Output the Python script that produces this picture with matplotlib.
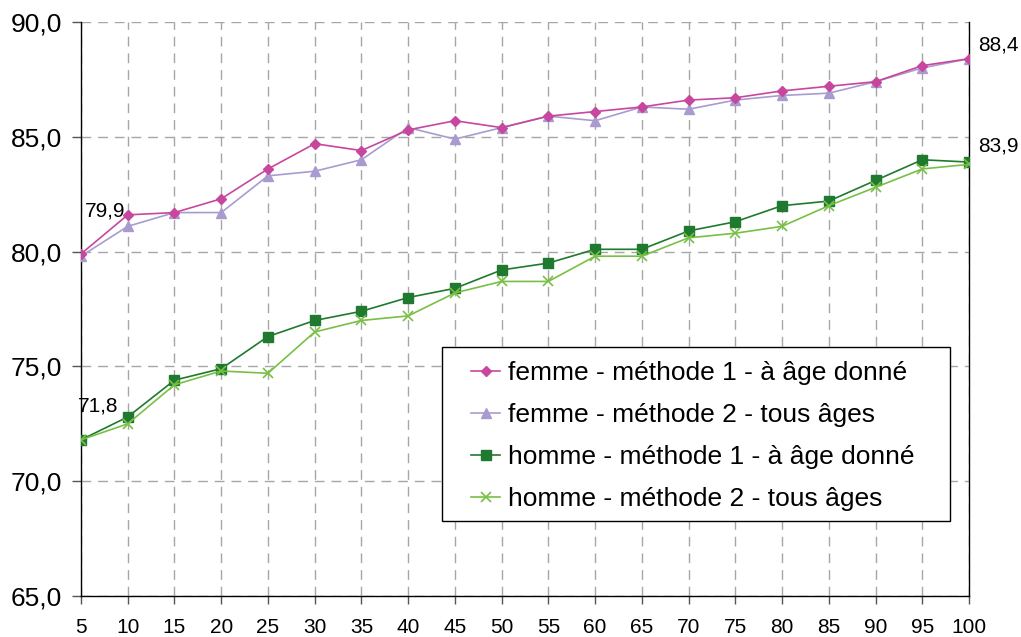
import matplotlib
matplotlib.use("Agg")
import matplotlib.pyplot as plt
from matplotlib.ticker import FuncFormatter
from matplotlib.patches import Rectangle

plt.rcParams['font.family'] = ['Liberation Sans', 'DejaVu Sans']

ages = [5, 10, 15, 20, 25, 30, 35, 40, 45, 50, 55, 60, 65, 70, 75, 80, 85, 90, 95, 100]
femme_m1 = [79.9, 81.6, 81.7, 82.3, 83.6, 84.7, 84.4, 85.3, 85.7, 85.4, 85.9, 86.1, 86.3, 86.6, 86.7, 87.0, 87.2, 87.4, 88.1, 88.4]
femme_m2 = [79.8, 81.1, 81.7, 81.7, 83.3, 83.5, 84.0, 85.4, 84.9, 85.4, 85.9, 85.7, 86.3, 86.2, 86.6, 86.8, 86.9, 87.4, 88.0, 88.4]
homme_m1 = [71.8, 72.8, 74.4, 74.9, 76.3, 77.0, 77.4, 78.0, 78.4, 79.2, 79.5, 80.1, 80.1, 80.9, 81.3, 82.0, 82.2, 83.1, 84.0, 83.9]
homme_m2 = [71.8, 72.5, 74.2, 74.8, 74.7, 76.5, 77.0, 77.2, 78.2, 78.7, 78.7, 79.8, 79.8, 80.6, 80.8, 81.1, 82.0, 82.8, 83.6, 83.8]

labels = ["femme - méthode 1 - à âge donné",
          "femme - méthode 2 - tous âges",
          "homme - méthode 1 - à âge donné",
          "homme - méthode 2 - tous âges"]
y_ticks = [65, 70, 75, 80, 85, 90]

fig = plt.figure(figsize=(10.21, 6.37), dpi=100)
ax = fig.add_axes([81/1021, 1-596/637, (969-81)/1021, (596-22)/637])

c_f1 = '#C8479E'
c_f2 = '#A99BD0'
c_h1 = '#1F7A2F'
c_h2 = '#78C044'

ax.plot(ages, femme_m1, color=c_f1, lw=1.2, marker='D', ms=5, mec=c_f1, mfc=c_f1, label=labels[0], zorder=4)
ax.plot(ages, femme_m2, color=c_f2, lw=1.2, marker='^', ms=7, mec=c_f2, mfc=c_f2, label=labels[1], zorder=3)
ax.plot(ages, homme_m1, color=c_h1, lw=1.2, marker='s', ms=6.5, mec=c_h1, mfc=c_h1, label=labels[2], zorder=3)
ax.plot(ages, homme_m2, color=c_h2, lw=1.2, marker='x', ms=7, mew=1.2, label=labels[3], zorder=4)

ax.set_xlim(ages[0], ages[-1])
ax.set_ylim(y_ticks[0], y_ticks[-1])
ax.set_xticks(ages)
ax.set_yticks(y_ticks)
ax.yaxis.set_major_formatter(FuncFormatter(lambda v, p: f"{v:.1f}".replace('.', ',')))

ax.grid(True, color='#A6A6A6', linestyle=(0, (7, 5)), linewidth=1.0, zorder=0)
ax.set_axisbelow(True)
ax.spines['top'].set_visible(False)
for s in ['left', 'bottom', 'right']:
    ax.spines[s].set_color('black')
    ax.spines[s].set_linewidth(1.0)
ax.tick_params(axis='y', direction='out', length=6.5, width=1, color='#555555', labelsize=19, pad=7)
ax.tick_params(axis='x', direction='out', length=5.5, width=1, color='#555555', labelsize=15, pad=10)

# data labels
ann_kw = dict(textcoords='offset pixels', fontsize=15, va='center', ha='left')
ax.annotate(f"{femme_m1[0]:.1f}".replace('.', ','), (ages[0], femme_m1[0]), xytext=(4, 43), **ann_kw)
ax.annotate(f"{homme_m1[0]:.1f}".replace('.', ','), (ages[0], homme_m1[0]), xytext=(-3, 34), **ann_kw)
ax.annotate(f"{femme_m1[-1]:.1f}".replace('.', ','), (ages[-1], femme_m1[-1]), xytext=(9, 14), annotation_clip=False, **ann_kw)
ax.annotate(f"{homme_m1[-1]:.1f}".replace('.', ','), (ages[-1], homme_m1[-1]), xytext=(9, 16), annotation_clip=False, **ann_kw)

# legend frame (drawn separately for exact padding)
x0, x1 = (442-81)/888, (950-81)/888
y0, y1 = (596-521)/574, (596-347)/574
ax.add_patch(Rectangle((x0, y0), x1-x0, y1-y0, transform=ax.transAxes, facecolor='white',
                       edgecolor='black', linewidth=1.0, zorder=8, clip_on=False))
leg = ax.legend(loc='center left', bbox_to_anchor=((471-81)/888, (596-436)/574), borderaxespad=0,
                fontsize=19, frameon=False, handlelength=1.1, handletextpad=0.29,
                labelspacing=0.68, borderpad=0)
leg.set_zorder(10)

fig.savefig('out.png', dpi=100)
